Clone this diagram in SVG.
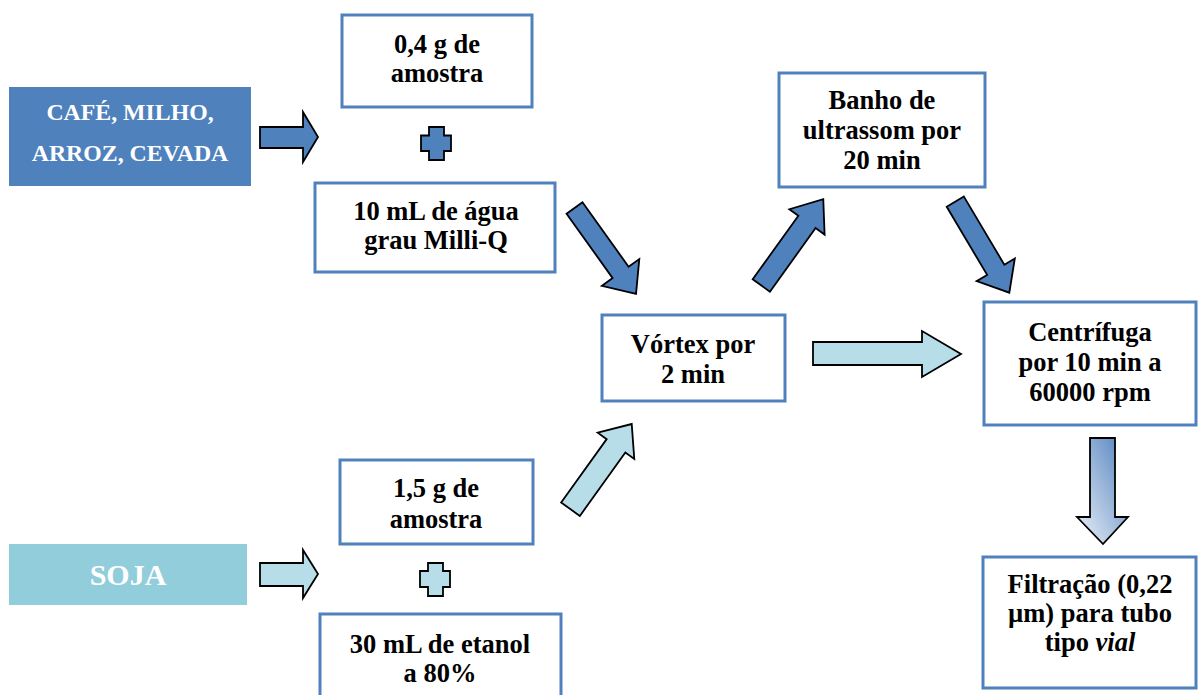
<svg xmlns="http://www.w3.org/2000/svg" width="1198" height="695" viewBox="0 0 1198 695">
<style>
.box{fill:#ffffff;stroke:#4F81BD;stroke-width:3}
.t{font-weight:bold;font-size:26.5px;fill:#000;text-anchor:middle}
.w{font-weight:bold;font-size:23.8px;fill:#fff;text-anchor:middle}
.dark{fill:#4F81BD;stroke:#000;stroke-width:1.8;stroke-linejoin:miter}
.light{fill:#B7DEE8;stroke:#000;stroke-width:1.8;stroke-linejoin:miter}
</style>
<defs>
<linearGradient id="grad" x1="1" y1="0" x2="0" y2="1">
<stop offset="0" stop-color="#4F81BD"/>
<stop offset="1" stop-color="#EEF2F9"/>
</linearGradient>
</defs>
<rect width="1198" height="695" fill="#ffffff"/>

<g font-family="Liberation Serif, Times New Roman, DejaVu Serif, serif">
<g id="cafe">
<rect x="9" y="87" width="242" height="99" fill="#4F81BD"/>
<text class="w" x="130" y="120">CAFÉ, MILHO,</text>
<text class="w" x="130" y="161">ARROZ, CEVADA</text>
</g>

<g id="soja">
<rect x="9" y="544" width="238" height="61" fill="#92CDDC"/>
<text class="w" x="128" y="585" style="font-size:30px">SOJA</text>
</g>

<g id="amostra04">
<rect class="box" x="342" y="15" width="190" height="92"/>
<text class="t" x="437" y="53">0,4 g de</text>
<text class="t" x="437" y="82">amostra</text>
</g>

<g id="agua">
<rect class="box" x="315" y="183" width="240" height="89"/>
<text class="t" x="436" y="220">10 mL de água</text>
<text class="t" x="436" y="249">grau Milli-Q</text>
</g>

<g id="amostra15">
<rect class="box" x="340" y="460" width="193" height="84"/>
<text class="t" x="436" y="497">1,5 g de</text>
<text class="t" x="436" y="528">amostra</text>
</g>

<g id="etanol">
<rect class="box" x="320" y="614" width="241" height="90"/>
<text class="t" x="440" y="653">30 mL de etanol</text>
<text class="t" x="440" y="682">a 80%</text>
</g>

<g id="vortex">
<rect class="box" x="602" y="315" width="183" height="86"/>
<text class="t" x="693" y="353">Vórtex por</text>
<text class="t" x="693" y="383">2 min</text>
</g>

<g id="banho">
<rect class="box" x="779" y="73" width="206" height="114"/>
<text class="t" x="882" y="109">Banho de</text>
<text class="t" x="882" y="139">ultrassom por</text>
<text class="t" x="882" y="169">20 min</text>
</g>

<g id="centrifuga">
<rect class="box" x="984" y="302" width="212" height="123"/>
<text class="t" x="1090" y="341">Centrífuga</text>
<text class="t" x="1090" y="371">por 10 min a</text>
<text class="t" x="1090" y="401">60000 rpm</text>
</g>

<g id="filtracao">
<rect class="box" x="983" y="557" width="213" height="131"/>
<text class="t" x="1090" y="593">Filtração (0,22</text>
<text class="t" x="1090" y="622">µm) para tubo</text>
<text class="t" x="1090" y="651">tipo <tspan font-style="italic">vial</tspan></text>
</g>
</g>

<g id="plus-signs">
<path class="dark" d="M429,127 H444 V135.5 H451 V151 H444 V160 H429 V151 H421 V135.5 H429 Z"/>
<path class="light" d="M428,563 H443 V571 H450 V587 H443 V596 H428 V587 H420 V571 H428 Z"/>
</g>

<g id="connectors">
<polygon class="dark" points="260,127 303,127 303,112 318,137 303,162 303,148 260,148"/>
<polygon class="light" points="260,563 303,563 303,550 318,574 303,598 303,586 260,586"/>
<polygon class="dark" transform="translate(574.5,208) rotate(54.4)" points="0,-9.8 79.2,-9.8 79.2,-23 105.7,0 79.2,23 79.2,9.8 0,9.8"/>
<polygon class="light" transform="translate(570.5,509.2) rotate(-54.3)" points="0,-11.5 78,-11.5 78,-22.5 104.9,0 78,22.5 78,11.5 0,11.5"/>
<polygon class="dark" transform="translate(761.3,285.5) rotate(-54.3)" points="0,-10.6 78.3,-10.6 78.3,-21.7 106.2,0 78.3,21.7 78.3,10.6 0,10.6"/>
<polygon class="dark" transform="translate(955.3,201.7) rotate(59.3)" points="0,-10 79.2,-10 79.2,-22.2 105.8,0 79.2,22.2 79.2,10 0,10"/>
<polygon class="light" points="813,342 922,342 922,331 961,354 922,377 922,365 813,365"/>
<polygon fill="url(#grad)" stroke="#000" stroke-width="1.8" points="1090,438 1115,438 1115,517 1128,517 1103,544 1077,517 1090,517"/>
</g>
</svg>
